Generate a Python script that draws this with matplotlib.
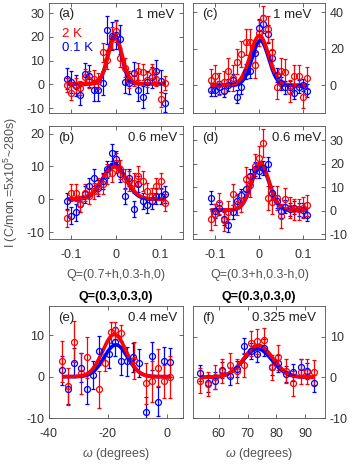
import numpy as np
import matplotlib
matplotlib.use('Agg')
import matplotlib.pyplot as plt

plt.rcParams['font.family'] = ['Liberation Sans', 'DejaVu Sans']
plt.rcParams['mathtext.fontset'] = 'custom'
plt.rcParams['mathtext.rm'] = 'Liberation Sans'
plt.rcParams['mathtext.it'] = 'Liberation Sans:italic'
plt.rcParams['mathtext.bf'] = 'Liberation Sans:bold'
plt.rcParams['axes.unicode_minus'] = False
plt.rcParams['font.size'] = 9

TXT = '#333333'
FRAME = '#505050'

# Q scan positions (r.l.u. offset h)
q_x = [-0.11, -0.10, -0.09, -0.08, -0.07, -0.06, -0.05, -0.04, -0.03, -0.02, -0.01, 0.00,
       0.01, 0.02, 0.03, 0.04, 0.05, 0.06, 0.07, 0.08, 0.09, 0.10, 0.11]

# (a) Q=(0.7+h,0.3-h,0), 1 meV
a_red = [-0.1, -3.5, -0.4, -1.4, 3.2, 2.1, 2.5, 1.4, 13.6, 10.5, 19.6, 22.4,
         11.2, 7.0, 2.1, 2.8, 5.6, 5.2, 2.1, 5.6, 2.4, -6.3, 0.7]
a_red_err = [3, 3, 3, 3, 3.5, 3.5, 3.5, 3.5, 4, 4, 4.5, 4.5, 4, 4, 3.5, 3.5, 3.5, 3.5, 3, 3, 3, 3, 3]
a_blue = [2.4, 1.0, -0.5, -4.6, 4.5, 3.5, -2.4, -2.4, 0.7, 23.0, 20.5, 21.0,
          19.0, 1.0, 0.5, 4.9, -2.4, -5.2, 1.0, 3.0, 5.6, 1.4, -7.7]
a_blue_err = [4.5, 4.5, 4.5, 4, 4.5, 4.5, 4.5, 4.5, 5, 6, 6, 6, 6, 4.5, 4.5, 4.5, 4.5, 4.5, 4.5, 4.5, 4.5, 4.5, 4]
a_fit_red = (19.5, -0.002, 0.016, 0.3)    # amplitude, centre, sigma, background
a_fit_blue = (20.5, -0.003, 0.015, 0.3)

# (c) Q=(0.3+h,0.3-h,0), 1 meV
c_red = [3.0, 5.2, 1.0, 2.1, 7.9, 4.0, 13.0, 17.0, 23.9, 23.9, 11.0, 28.5,
         36.6, 30.8, 18.1, -0.6, 8.1, 7.5, -2.8, 5.2, 5.2, -6.1, 3.9]
c_red_err = [6, 6, 6, 6, 7, 7, 7, 7, 7, 7, 7, 7, 7, 7, 7, 7, 7, 7, 6, 6, 6, 6, 6]
c_blue = [-2.4, -2.4, -1.0, -3.0, 0.3, 3.0, -6.1, -1.0, 7.6, 8.1, 17.5, 31.2,
          33.5, 28.0, 14.8, 5.7, 1.2, -1.0, -1.0, -3.9, -0.6, 0.3, -2.8]
c_blue_err = [3.5, 3.5, 3.5, 3.5, 3.5, 3.5, 3.5, 3.5, 4, 4, 4.5, 5, 5, 5, 4.5, 4, 3.5, 3.5, 3.5, 3.5, 3.5, 3.5, 3.5]
c_fit_red = (27.0, 0.001, 0.021, 0.2)
c_fit_blue = (24.5, 0.003, 0.019, 0.0)

# (b) Q=(0.7+h,0.3-h,0), 0.6 meV
b_red = [-5.8, 2.0, 2.0, -1.5, 2.0, 1.0, 2.5, 4.0, 4.6, 7.6, 8.1, 11.1,
         9.1, 6.1, 5.6, 4.9, 7.1, 5.6, 2.5, 1.0, 4.0, 5.6, -1.0]
b_red_err = [2.5, 2.5, 2.5, 2.5, 2.5, 2.5, 2.5, 2.5, 3, 3, 3, 3, 3, 3, 3, 3, 3, 3, 2.5, 2.5, 2.5, 2.5, 2.5]
b_blue = [-0.5, -5.0, -4.0, -1.5, 1.5, 4.0, 6.6, 3.5, 5.6, 9.1, 14.2, 12.2,
          7.6, 1.0, 6.6, -3.0, 4.6, -0.5, -1.8, -0.5, 1.0, 1.0, 1.5]
b_blue_err = [2.5, 2.5, 2.5, 2.5, 2.5, 2.5, 2.5, 2.5, 2.5, 2.5, 2.5, 2.5, 2.5, 2.5, 2.5, 2.5, 2.5, 2.5, 2.5, 2.5, 2.5, 2.5, 2.5]
b_fit_red = (9.8, -0.004, 0.027, 0.0)
b_fit_blue = (10.8, -0.004, 0.025, 0.0)

# (d) Q=(0.3+h,0.3-h,0), 0.6 meV
d_red = [-3.7, -1.5, 3.1, -4.1, -0.5, 7.0, 2.7, 4.0, 13.6, 10.8, 19.0, 22.5,
         28.9, 5.5, 3.7, 5.5, -2.2, 4.8, 1.3, 0.6, 0.6, 1.3, 2.4]
d_red_err = [4.5, 4.5, 4.5, 4.5, 4.5, 4.5, 4.5, 4.5, 5, 5, 5, 5, 6, 5, 5, 5, 5, 5, 4.5, 4.5, 4.5, 4.5, 4.5]
d_blue = [5.5, -0.1, 1.0, -3.4, -6.2, -0.5, 4.1, 6.5, 9.1, 14.8, 17.9, 16.9,
          18.0, 19.7, 7.7, 4.1, -0.1, 1.7, 0.6, 1.3, 0.6, 0.3, -1.6]
d_blue_err = [2.8, 2.8, 2.8, 2.8, 2.8, 2.8, 2.8, 2.8, 3, 3, 3, 3, 3, 3, 3, 2.8, 2.8, 2.8, 2.8, 2.8, 2.8, 2.8, 2.8]
d_fit_red = (20.0, 0.003, 0.020, 0.3)
d_fit_blue = (19.0, 0.003, 0.020, 0.3)

# (e) Q=(0.3,0.3,0), 0.4 meV, omega scan
e_red_x = [-35.5, -33.5, -31.5, -29, -27, -23, -21, -19, -17.5, -15.5, -11, -7, -5, -3, -1, 1]
e_red = [3.7, -2.3, 8.5, 0.8, 4.7, -3.1, 3.4, 10.7, 11.2, 10.6, 4.0, -1.6, -1.1, 2.2, -1.1, -0.1]
e_red_err = [5, 4.5, 5, 5, 5, 4.5, 2, 2.5, 2, 2, 4.5, 5, 5, 4.5, 4, 5]
e_blue_x = [-35.5, -33.5, -31.5, -29, -27, -25, -23, -19.5, -17.5, -15.5, -13.5, -11.5, -9.5,
            -7, -5, -3, -1, 1]
e_blue = [1.5, -3.1, 3.4, 2.2, -3.1, 0.4, 6.3, 5.5, 8.5, 3.9, 3.7, 4.7, 3.3, -8.5, 5.0, -6.1, 3.7, 3.5]
e_blue_err = [3.5, 3.5, 3.5, 3.5, 3.5, 3.5, 3.5, 3.5, 3.5, 3.5, 3.5, 3.5, 3.5, 3.5, 3.5, 3.5, 3.5, 3.5]
e_fit_red = (10.2, -17.8, 4.0, 0.0)
e_fit_blue = (7.7, -17.3, 4.0, 0.0)

# (f) Q=(0.3,0.3,0), 0.325 meV, omega scan
f_x = [53.4, 56.3, 58.6, 61.2, 63.9, 66.2, 68.8, 71.2, 73.4, 75.8, 78.4, 80.7, 83.4, 85.9, 88.5, 90.8, 93.1]
f_red = [-0.8, -1.6, 0.0, 1.6, 3.0, 1.6, 3.0, 8.3, 8.8, 9.1, 2.4, 4.9, 1.6, -1.5, 1.4, 1.4, 1.2]
f_red_err = [3, 3, 3, 3, 3, 3, 3, 3, 3, 3, 3, 3, 3, 3, 3, 3, 3]
f_blue = [1.0, -1.5, -0.8, 1.8, 0.2, 2.0, 7.7, 6.5, 5.7, 7.3, 2.6, 3.4, 0.8, 1.2, 2.4, 1.5, -1.5]
f_blue_err = [2, 2, 2, 2, 2, 2, 2, 2, 2, 2, 2, 2, 2, 2, 2, 2, 2]
f_fit_red = (7.8, 73.8, 5.0, 0.0)
f_fit_blue = (7.0, 73.5, 5.0, 0.0)


def gauss(x, amp, x0, sig, bg):
    return bg + amp * np.exp(-(x - x0) ** 2 / (2 * sig ** 2))


def draw(ax, xr, yr, er, xb, yb, eb, fit_r, fit_b):
    for x, y, e, c in [(xb, yb, eb, 'b'), (xr, yr, er, 'r')]:
        ax.errorbar(x, y, e, fmt='o', color=c, mfc='none', ms=4.3, mew=0.9,
                    elinewidth=0.9, capsize=1.3, capthick=0.9)
    lo = min(min(xr), min(xb))
    hi = max(max(xr), max(xb))
    xx = np.linspace(lo, hi, 300)
    ax.plot(xx, gauss(xx, *fit_b), color='b', lw=2.6, solid_capstyle='butt')
    ax.plot(xx, gauss(xx, *fit_r), color='r', lw=2.6, solid_capstyle='butt')


def style(ax, right=False, xlabels=True):
    ax.tick_params(direction='in', length=3, width=0.6, colors=FRAME, labelcolor=TXT,
                   top=True, bottom=True, left=True, right=True, labelsize=9)
    ax.tick_params(axis='x', pad=7, labelbottom=xlabels)
    ax.tick_params(axis='y', pad=3.5, labelleft=not right, labelright=right)
    for s in ax.spines.values():
        s.set_color(FRAME)
        s.set_linewidth(0.6)


W, H = 353, 465
fig = plt.figure(figsize=(W / 100, H / 100), dpi=100)


def box(l, r, t, b):
    return [l / W, 1 - b / H, (r - l) / W, (b - t) / H]


ax_a = fig.add_axes(box(49, 183, 3, 113))
ax_c = fig.add_axes(box(193, 325, 3, 113))
ax_b = fig.add_axes(box(49, 183, 126, 239))
ax_d = fig.add_axes(box(193, 325, 126, 239))
ax_e = fig.add_axes(box(49, 183, 306, 418))
ax_f = fig.add_axes(box(193, 325, 306, 418))

draw(ax_a, q_x, a_red, a_red_err, q_x, a_blue, a_blue_err, a_fit_red, a_fit_blue)
draw(ax_c, q_x, c_red, c_red_err, q_x, c_blue, c_blue_err, c_fit_red, c_fit_blue)
draw(ax_b, q_x, b_red, b_red_err, q_x, b_blue, b_blue_err, b_fit_red, b_fit_blue)
draw(ax_d, q_x, d_red, d_red_err, q_x, d_blue, d_blue_err, d_fit_red, d_fit_blue)
draw(ax_e, e_red_x, e_red, e_red_err, e_blue_x, e_blue, e_blue_err, e_fit_red, e_fit_blue)
draw(ax_f, f_x, f_red, f_red_err, f_x, f_blue, f_blue_err, f_fit_red, f_fit_blue)

q_ticks = [-0.1, 0, 0.1]
for ax in (ax_a, ax_b, ax_c, ax_d):
    ax.set_xlim(-0.15, 0.15)
    ax.set_xticks(q_ticks)
    ax.set_xticklabels(['-0.1', '0', '0.1'])

ax_a.set_ylim(-12, 34.3)
ax_a.set_yticks([-10, 0, 10, 20, 30])
ax_c.set_ylim(-15, 45)
ax_c.set_yticks([0, 20, 40])
ax_b.set_ylim(-12.1, 22.3)
ax_b.set_yticks([-10, 0, 10, 20])
ax_d.set_ylim(-12, 36)
ax_d.set_yticks([-10, 0, 10, 20, 30])
ax_e.set_xlim(-40, 5.5)
ax_e.set_xticks([-40, -20, 0])
ax_e.set_ylim(-10, 17.1)
ax_e.set_yticks([-10, 0, 10])
ax_f.set_xlim(51, 97)
ax_f.set_xticks([60, 70, 80, 90])
ax_f.set_ylim(-10, 17.5)
ax_f.set_yticks([-10, 0, 10])

style(ax_a, xlabels=False)
style(ax_c, right=True, xlabels=False)
style(ax_b)
style(ax_d, right=True)
style(ax_e)
style(ax_f, right=True)

# panel letters and energy transfers
panel_text = [(ax_a, '(a)', '1 meV', 0.935), (ax_c, '(c)', '1 meV', 0.9),
              (ax_b, '(b)', '0.6 meV', 0.955), (ax_d, '(d)', '0.6 meV', 0.97),
              (ax_e, '(e)', '0.4 meV', 0.958), (ax_f, '(f)', '0.325 meV', 0.935)]
for ax, lab, en, xr in panel_text:
    ax.text(0.07, 0.95, lab, transform=ax.transAxes, ha='left', va='top', color='#222222', fontsize=9.5)
    ax.text(xr, 0.95, en, transform=ax.transAxes, ha='right', va='top', color='#222222', fontsize=9.5)

ax_a.text(0.1, 0.77, '2 K', transform=ax_a.transAxes, ha='left', va='top', color='r', fontsize=9.5)
ax_a.text(0.1, 0.645, '0.1 K', transform=ax_a.transAxes, ha='left', va='top', color='b', fontsize=9.5)

# axis labels
fig.text(116 / W, 1 - 275 / H, 'Q=(0.7+h,0.3-h,0)', ha='center', va='center', color='#555555', fontsize=9)
fig.text(260 / W, 1 - 275 / H, 'Q=(0.3+h,0.3-h,0)', ha='center', va='center', color='#555555', fontsize=9)
fig.text(116 / W, 1 - 297 / H, 'Q=(0.3,0.3,0)', ha='center', va='center', fontweight='bold', fontsize=9)
fig.text(259 / W, 1 - 297 / H, 'Q=(0.3,0.3,0)', ha='center', va='center', fontweight='bold', fontsize=9)
fig.text(116 / W, 1 - 454 / H, r'$\omega$ (degrees)', ha='center', va='center', color='#555555', fontsize=9)
fig.text(259 / W, 1 - 454 / H, r'$\omega$ (degrees)', ha='center', va='center', color='#555555', fontsize=9)
fig.text(11 / W, 1 - 183 / H, 'I (C/mon.=5x10$^5$~280s)', rotation=90, ha='center', va='center',
         color='#555555', fontsize=9)

fig.savefig('out.png', dpi=100)
